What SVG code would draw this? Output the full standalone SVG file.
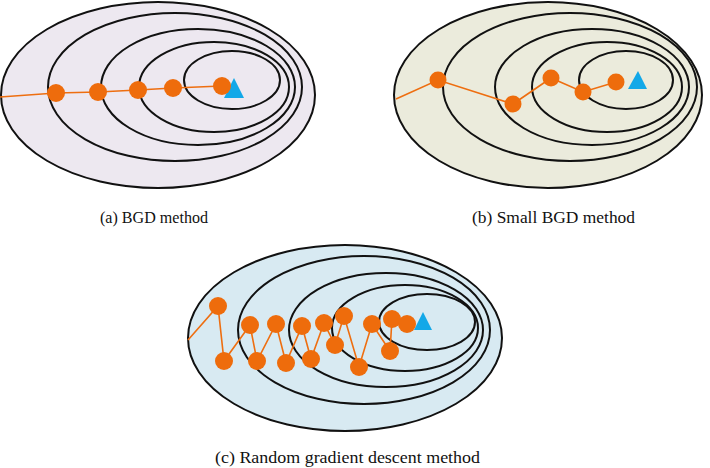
<svg xmlns="http://www.w3.org/2000/svg" width="710" height="468" viewBox="0 0 710 468">
<style>
.c{fill:none;stroke:#111;stroke-width:2}
.o{stroke:#111;stroke-width:2}
.p{fill:none;stroke:#ee6e10;stroke-width:1.6}
.d{fill:#ee6c0c}
.t{fill:#12a8e8}
.cap{font-family:"Liberation Serif","Times New Roman",serif;fill:#111;text-anchor:middle}
</style>
<rect width="710" height="468" fill="#fff"/>
<g id="panel-a">
<ellipse class="o" cx="158" cy="95" rx="157" ry="93" fill="#ede8f0"/>
<ellipse class="c" cx="175" cy="87" rx="127" ry="74"/>
<ellipse class="c" cx="198" cy="87" rx="97" ry="58"/>
<ellipse class="c" cx="214" cy="87" rx="75" ry="45"/>
<ellipse class="c" cx="232" cy="80" rx="48" ry="29"/>
</g>
<g id="panel-b">
<ellipse class="o" cx="548" cy="95" rx="154" ry="93" fill="#ebebdc"/>
<ellipse class="c" cx="570" cy="87" rx="127" ry="74"/>
<ellipse class="c" cx="592" cy="87" rx="97" ry="58"/>
<ellipse class="c" cx="607" cy="87" rx="75" ry="45"/>
<ellipse class="c" cx="626" cy="80" rx="47" ry="29"/>
</g>
<g id="panel-c">
<ellipse class="o" cx="345" cy="338" rx="157" ry="93" fill="#d8eaf2"/>
<ellipse class="c" cx="364" cy="330" rx="126" ry="74"/>
<ellipse class="c" cx="386" cy="330" rx="97" ry="57"/>
<ellipse class="c" cx="405" cy="328" rx="73" ry="43"/>
<ellipse class="c" cx="427" cy="322" rx="48" ry="28"/>
</g>
<g id="connectors">
<polyline class="p" points="0,97 56,93 98,92 138,90 173,88 222,86"/>
<polyline class="p" points="396,99 438,80 513,104 551,78 583,92 616,82"/>
<polyline class="p" points="188,340 218,306 224,361 250,325 257,361 276,324 286,363 302,326 311,359 324,323 335,345 344,316 359,367 372,324 390,351 392,319 407,324"/>
</g>
<g id="dots-a">
<polygon class="t" points="234,78 224,98 244,98"/>
<circle class="d" cx="56" cy="93" r="9"/>
<circle class="d" cx="98" cy="92" r="9"/>
<circle class="d" cx="138" cy="90" r="9"/>
<circle class="d" cx="173" cy="88" r="9"/>
<circle class="d" cx="222" cy="86" r="9"/>
</g>
<g id="dots-b">
<polygon class="t" points="638,71 628,89 647,89"/>
<circle class="d" cx="438" cy="80" r="8.5"/>
<circle class="d" cx="513" cy="104" r="8.5"/>
<circle class="d" cx="551" cy="78" r="8.5"/>
<circle class="d" cx="583" cy="92" r="8.5"/>
<circle class="d" cx="616" cy="82" r="8.5"/>
</g>
<g id="dots-c">
<polygon class="t" points="423,312 414,330 432,330"/>
<circle class="d" cx="218" cy="306" r="9"/>
<circle class="d" cx="224" cy="361" r="9"/>
<circle class="d" cx="250" cy="325" r="9"/>
<circle class="d" cx="257" cy="361" r="9"/>
<circle class="d" cx="276" cy="324" r="9"/>
<circle class="d" cx="286" cy="363" r="9"/>
<circle class="d" cx="302" cy="326" r="9"/>
<circle class="d" cx="311" cy="359" r="9"/>
<circle class="d" cx="324" cy="323" r="9"/>
<circle class="d" cx="335" cy="345" r="9"/>
<circle class="d" cx="344" cy="316" r="9"/>
<circle class="d" cx="359" cy="367" r="9"/>
<circle class="d" cx="372" cy="324" r="9"/>
<circle class="d" cx="390" cy="351" r="9"/>
<circle class="d" cx="392" cy="319" r="9"/>
<circle class="d" cx="407" cy="324" r="9"/>
</g>
<g id="captions">
<text class="cap" x="154" y="223" font-size="16" textLength="108" lengthAdjust="spacingAndGlyphs">(a) BGD method</text>
<text class="cap" x="553.5" y="223" font-size="16" textLength="163" lengthAdjust="spacingAndGlyphs">(b) Small BGD method</text>
<text class="cap" x="347.5" y="463" font-size="17" textLength="265" lengthAdjust="spacingAndGlyphs">(c) Random gradient descent method</text>
</g>
</svg>
